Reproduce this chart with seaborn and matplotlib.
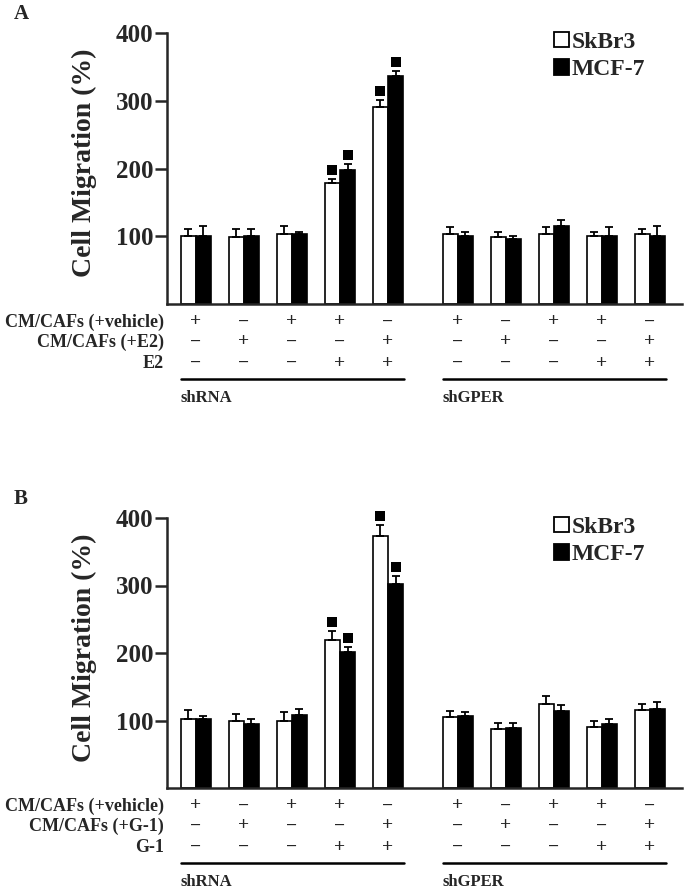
import matplotlib
matplotlib.use("Agg")
import matplotlib.pyplot as plt
import numpy as np
import pandas as pd
import seaborn as sns
from matplotlib.patches import Patch
from matplotlib.transforms import offset_copy

# ---- data ----
lines = ["SkBr3", "MCF-7"]

skbr3_a = [100, 99, 104, 179, 291, 104, 99, 104, 100, 103]
skbr3_a_err = [10, 11, 11, 6, 10, 9, 8, 9, 6, 7]
mcf7_a = [100, 100, 103, 198, 337, 100, 96, 115, 101, 100]
mcf7_a_err = [15, 10, 4, 9, 7, 6, 4, 9, 12, 15]

skbr3_b = [102, 99, 100, 219, 373, 105, 88, 125, 90, 116]
skbr3_b_err = [13, 11, 12, 14, 17, 9, 9, 11, 9, 8]
mcf7_b = [102, 95, 108, 201, 302, 107, 89, 114, 95, 117]
mcf7_b_err = [4, 7, 9, 8, 12, 6, 8, 9, 7, 10]

significant = [3, 4]  # conditions marked with a filled square

vehicle = ["+", "−", "+", "+", "−", "+", "−", "+", "+", "−"]
treated = ["−", "+", "−", "−", "+", "−", "+", "−", "−", "+"]
agonist = ["−", "−", "−", "+", "+", "−", "−", "−", "+", "+"]
groups = ["shRNA", "shGPER"]

# bar-pair positions: two groups of five with a gap
pos = [0, 1, 2, 3, 4, 5.45, 6.45, 7.45, 8.45, 9.45]

sns.set_style("ticks")
plt.rcParams["font.family"] = ["Liberation Serif", "DejaVu Serif"]
plt.rcParams["font.weight"] = "bold"
plt.rcParams["axes.labelweight"] = "bold"

fig = plt.figure(figsize=(6.85, 8.9), dpi=100)
ax_a = fig.add_axes([167 / 685, 1 - 304 / 890, 515 / 685, 271 / 890])
ax_b = fig.add_axes([167 / 685, 1 - 788 / 890, 515 / 685, 270 / 890])


def draw_panel(ax, white, white_err, black, black_err, row_labels, letter):
    df = pd.DataFrame({
        "pos": pos * 2,
        "line": [lines[0]] * len(pos) + [lines[1]] * len(pos),
        "value": white + black,
    })
    sns.barplot(data=df, x="pos", y="value", hue="line", hue_order=lines,
                native_scale=True, palette={"SkBr3": "white", "MCF-7": "black"},
                edgecolor="black", linewidth=1.2, width=0.63, errorbar=None,
                legend=False, ax=ax)

    marks_x, marks_y = [], []
    for cont, vals, errs in zip(ax.containers, [white, black], [white_err, black_err]):
        xs = [p.get_x() + p.get_width() / 2 for p in cont.patches]
        ax.errorbar(xs, vals, yerr=[np.zeros(len(errs)), errs], fmt="none",
                    ecolor="black", elinewidth=1.3, capsize=2.6, capthick=1.3, zorder=3)
        for i in significant:
            marks_x.append(xs[i])
            marks_y.append(vals[i] + errs[i] + 13)
    sns.scatterplot(x=marks_x, y=marks_y, marker="s", color="black", s=42,
                    edgecolor="black", linewidth=0, ax=ax, zorder=4, clip_on=False)

    ax.set_xlim(-0.6, 10.12)
    ax.set_ylim(0, 400)
    ax.set_yticks([100, 200, 300, 400])
    ax.set_xticks([])
    ax.set_xlabel("")
    ax.set_ylabel("Cell Migration (%)", fontsize=20, fontweight="bold")
    ax.yaxis.set_label_coords(-0.136, 0.52)
    ax.tick_params(axis="y", labelsize=18, length=9, width=1.8, pad=1)
    for lab in ax.get_yticklabels():
        lab.set_fontweight("bold")
    sns.despine(ax=ax)
    ax.spines["left"].set_linewidth(1.8)
    ax.spines["bottom"].set_linewidth(1.8)

    handles = [Patch(facecolor="white", edgecolor="black", linewidth=1.3),
               Patch(facecolor="black", edgecolor="black", linewidth=1.3)]
    ax.legend(handles, lines, loc="upper left", bbox_to_anchor=(0.752, 1.005),
              frameon=False, handlelength=0.62, handleheight=0.62, handletextpad=0.12,
              labelspacing=0.28, borderpad=0, borderaxespad=0,
              prop={"size": 17, "weight": "bold"})

    xt = ax.get_xaxis_transform()
    rows = [vehicle, treated, agonist]
    row_dy = [18, 38, 59]
    for signs, dy, name in zip(rows, row_dy, row_labels):
        tr = offset_copy(xt, fig=fig, y=-dy, units="dots")
        for x, s in zip(pos, signs):
            ax.text(x, 0, s, transform=tr, ha="center", va="center", fontsize=14,
                    fontweight="bold", clip_on=False)
        tra = offset_copy(ax.transAxes, fig=fig, y=-dy, units="dots")
        ax.text(-0.006, 0, name, transform=tra, ha="right", va="center", fontsize=13,
                fontweight="bold", clip_on=False)

    tr_line = offset_copy(xt, fig=fig, y=-75, units="dots")
    tr_grp = offset_copy(xt, fig=fig, y=-94, units="dots")
    for g, (a, b) in zip(groups, [(pos[0], pos[4]), (pos[5], pos[9])]):
        ax.plot([a - 0.31, b + 0.33], [0, 0], transform=tr_line, color="black",
                lw=1.8, clip_on=False)
        ax.text(a - 0.31, 0, g, transform=tr_grp, ha="left", va="center",
                fontsize=12, fontweight="bold", clip_on=False)

    tra = offset_copy(ax.transAxes, fig=fig, x=-146, y=19, units="dots")
    ax.text(0, 1, letter, transform=tra, ha="center", va="center", fontsize=15,
            fontweight="bold", clip_on=False)


draw_panel(ax_a, skbr3_a, skbr3_a_err, mcf7_a, mcf7_a_err,
           ["CM/CAFs (+vehicle)", "CM/CAFs (+E2)", "E2"], "A")
draw_panel(ax_b, skbr3_b, skbr3_b_err, mcf7_b, mcf7_b_err,
           ["CM/CAFs (+vehicle)", "CM/CAFs (+G-1)", "G-1"], "B")

fig.savefig("out.png", dpi=100)
